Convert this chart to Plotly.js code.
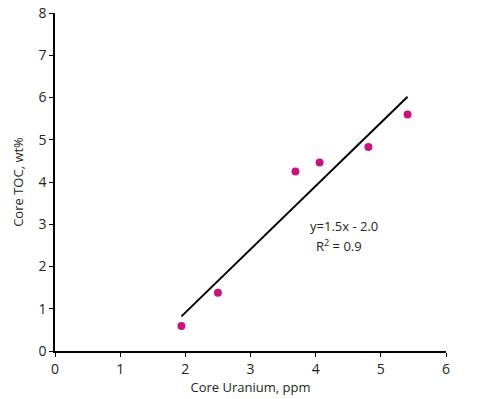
<!DOCTYPE html>
<html><head><meta charset="utf-8">
<script src="https://cdn.plot.ly/plotly-3.0.1.min.js"></script>
<style>html,body{margin:0;padding:0;background:#fff}</style>
</head><body>
<div id="chart" style="width:478px;height:399px"></div>
<script>
const uranium = [1.94, 2.50, 3.69, 4.06, 4.81, 5.41];
const toc = [0.59, 1.38, 4.25, 4.46, 4.83, 5.60];
const fitX = [1.94, 5.41];
const fitY = [0.82, 6.02];
const xTicks = [0, 1, 2, 3, 4, 5, 6];
const yTicks = [0, 1, 2, 3, 4, 5, 6, 7, 8];
const eqLines = ["y=1.5x - 2.0", "R<sup>2</sup> = 0.9"];

const font = {family: "Open Sans, sans-serif", size: 13, color: "#231f20"};
const tickFont = {family: "Open Sans, sans-serif", size: 14, color: "#231f20"};

Plotly.newPlot("chart", [
  {x: fitX, y: fitY, mode: "lines", line: {color: "#000", width: 2}, hoverinfo: "skip", showlegend: false},
  {x: uranium, y: toc, mode: "markers", marker: {color: "#C8157D", size: 8}, showlegend: false}
], {
  width: 478, height: 399,
  margin: {l: 55, r: 31.5, t: 13, b: 47.5},
  paper_bgcolor: "#fff", plot_bgcolor: "#fff",
  font: font,
  xaxis: {range: [0, 6], tickvals: xTicks, ticktext: xTicks.map(String), showgrid: false, zeroline: false,
    showline: true, linecolor: "#000", linewidth: 1.5, ticks: "outside", ticklen: 4, tickcolor: "#000",
    tickfont: tickFont,
    title: {text: "Core Uranium, ppm", font: font, standoff: 4}},
  yaxis: {range: [0, 8], tickvals: yTicks, ticktext: yTicks.map(String), showgrid: false, zeroline: false,
    showline: true, linecolor: "#000", linewidth: 1.5, ticks: "outside", ticklen: 4, tickcolor: "#000",
    tickfont: tickFont,
    title: {text: "Core TOC, wt%", font: font, standoff: 12}},
  annotations: [
    {x: 3.88, y: 2.95, xref: "x", yref: "y", text: eqLines[0], showarrow: false, xanchor: "left", font: font},
    {x: 3.98, y: 2.50, xref: "x", yref: "y", text: eqLines[1], showarrow: false, xanchor: "left", font: font}
  ]
}, {displayModeBar: false});
</script>
</body></html>
